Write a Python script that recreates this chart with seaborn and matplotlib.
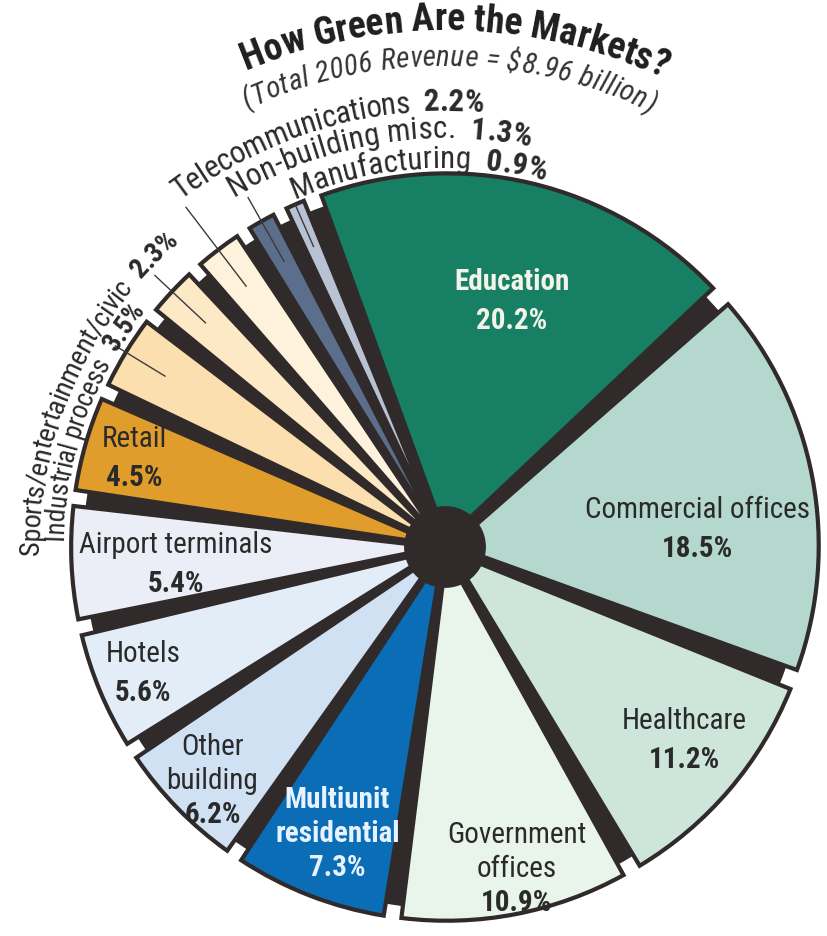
import numpy as np
import matplotlib
matplotlib.use("Agg")
import matplotlib.pyplot as plt
import seaborn as sns
from matplotlib.font_manager import FontProperties

# ---------------- data ----------------
categories = ["Education", "Commercial offices", "Healthcare", "Government offices",
              "Multiunit residential", "Other building", "Hotels", "Airport terminals",
              "Retail", "Industrial process", "Sports/entertainment/civic",
              "Telecommunications", "Non-building misc.", "Manufacturing"]
shares = [20.2, 18.5, 11.2, 10.9, 7.3, 6.2, 5.6, 5.4, 4.5, 3.5, 2.3, 2.2, 1.3, 0.9]
inside_names = ["Education", "Commercial offices", "Healthcare", "Government\noffices",
                "Multiunit\nresidential", "Other\nbuilding", "Hotels", "Airport terminals",
                "Retail"]
title = "How Green Are the Markets?"
subtitle = "(Total 2006 Revenue = $8.96 billion)"

# ---------------- style ----------------
sns.set_theme(style="white")
FAMILY = ['Roboto Condensed', 'Liberation Sans', 'DejaVu Sans']
plt.rcParams['font.family'] = FAMILY
DARK = '#302a2a'
TEXT = '#2a2a2a'
slice_colors = ['#177f63', '#b4d8cd', '#cde5da', '#e9f4eb', '#0b6db5', '#cfe1f3',
                '#e3edf8', '#eceef7', '#e09d2c', '#fbdfae', '#fde9c6', '#fff2dc',
                '#5b6f8c', '#b9c2d3']
label_colors = ['#f3f3ea', TEXT, TEXT, TEXT, '#e6f2ff', TEXT, TEXT, TEXT, TEXT]
name_weights = ['bold', 'normal', 'normal', 'normal', 'bold', 'normal', 'normal',
                'normal', 'normal']
label_r = [0.675, 0.661, 0.80, 0.857, 0.793, 0.86, 0.855, 0.704, 0.85]
label_dt = [-1.7, -6.0, 2.1, 1.8, 0.4, 0.4, -0.7, 0.4, -0.5]
GAP = 0.65
START = 110

W_PX, H_PX = 828, 937
CX, CY, R_PX = 445, 548, 372

fig = plt.figure(figsize=(W_PX / 100, H_PX / 100), dpi=100)
ax = fig.add_axes([0, 0, 1, 1])

vals, cols, expl = [], [], []
for v, c in zip(shares, slice_colors):
    vals += [v, GAP]
    cols += [c, DARK]
    expl += [0.02, 0.0]

# dark "extrusion" disk underneath
ax.pie([1], radius=0.972, colors=[DARK], wedgeprops=dict(linewidth=0))
wedges, _ = ax.pie(vals, radius=0.985, startangle=START, counterclock=False,
                   colors=cols, explode=expl,
                   wedgeprops=dict(edgecolor=DARK, linewidth=3, joinstyle='miter'))
slices = wedges[0::2]
for gw in wedges[1::2]:
    gw.set_visible(False)
# dark hub
ax.pie([1], radius=0.11, colors=[DARK], wedgeprops=dict(linewidth=0))

ax.set_xlim(-CX / R_PX, (W_PX - CX) / R_PX)
ax.set_ylim(-(H_PX - CY) / R_PX, CY / R_PX)
ax.set_aspect('equal')
ax.axis('off')


def mid_angle(w):
    return (w.theta1 + w.theta2) / 2.0


# ---------------- inside labels ----------------
for i, name in enumerate(inside_names):
    w = slices[i]
    th = np.deg2rad(mid_angle(w) + label_dt[i])
    cx = w.center[0] + label_r[i] * np.cos(th)
    cy = w.center[1] + label_r[i] * np.sin(th)
    lines = [(s, name_weights[i]) for s in name.split('\n')] + [(f"{shares[i]:.1f}%", 'bold')]
    n = len(lines)
    lh = 0.105 if n == 2 else 0.0915
    for j, (s, wt) in enumerate(lines):
        y = cy + ((n - 1) / 2.0 - j) * lh
        ax.text(cx, y, s, ha='center', va='center_baseline', fontsize=21,
                fontweight=wt, color=label_colors[i], family=FAMILY)

# ---------------- leader lines for thin slices ----------------
leader_outer = {9: 1.04, 10: 1.07, 11: 1.15, 12: 1.08, 13: 1.006}
for i, r_out in leader_outer.items():
    th = np.deg2rad(mid_angle(slices[i]))
    rr = np.array([r_out, 0.88])
    ax.plot(rr * np.cos(th), rr * np.sin(th), color='#3a3a3a', lw=1.0,
            solid_capstyle='butt')

# ---------------- curved text ----------------
renderer = fig.canvas.get_renderer()


def advance(ch, fp):
    a = renderer.get_text_width_height_descent('H' + ch + 'H', fp, ismath=False)[0]
    b = renderer.get_text_width_height_descent('HH', fp, ismath=False)[0]
    return a - b


ppu = ax.transData.transform((1, 0))[0] - ax.transData.transform((0, 0))[0]


def arc_text(pieces, radius, a0, a1, size, color, style='normal'):
    chars = []
    for s, wt in pieces:
        fp = FontProperties(family=FAMILY, size=size, weight=wt, style=style)
        for ch in s:
            chars.append((ch, fp))
    widths = np.array([advance(ch, fp) / ppu for ch, fp in chars])
    target = radius * np.deg2rad(a0 - a1)
    extra = (target - widths.sum()) / max(len(chars) - 1, 1)
    pos = 0.0
    for (ch, fp), wd in zip(chars, widths):
        d = pos + wd / 2.0
        ang = a0 - np.rad2deg(d / radius)
        t = np.deg2rad(ang)
        if ch != ' ':
            ax.text(radius * np.cos(t), radius * np.sin(t), ch, rotation=ang - 90,
                    rotation_mode='anchor', ha='center', va='baseline',
                    fontproperties=fp, color=color)
        pos += wd + extra


arc_text([(title, 'bold')], 1.392, 112.6, 65.2, 27, '#1e1e1e')
arc_text([(subtitle, 'normal')], 1.296, 114.3, 64.7, 21, '#333333', style='italic')
arc_text([(categories[11] + '  ', 'normal'), (f"{shares[11]:.1f}%", 'bold')],
         1.175, 127.3, 85.0, 22.5, TEXT)
arc_text([(categories[12] + '  ', 'normal'), (f"{shares[12]:.1f}%", 'bold')],
         1.102, 121.0, 78.0, 22.5, TEXT)
arc_text([(categories[13] + '  ', 'normal'), (f"{shares[13]:.1f}%", 'bold')],
         1.022, 113.3, 74.8, 22.5, TEXT)
arc_text([(categories[10] + '  ', 'normal'), (f"{shares[10]:.1f}%", 'bold')],
         1.091, 181.0, 131.0, 20.5, TEXT)
arc_text([(categories[9] + '  ', 'normal'), (f"{shares[9]:.1f}%", 'bold')],
         1.027, 178.8, 141.6, 19.5, TEXT)

fig.savefig("out.png", dpi=100, facecolor='white')
